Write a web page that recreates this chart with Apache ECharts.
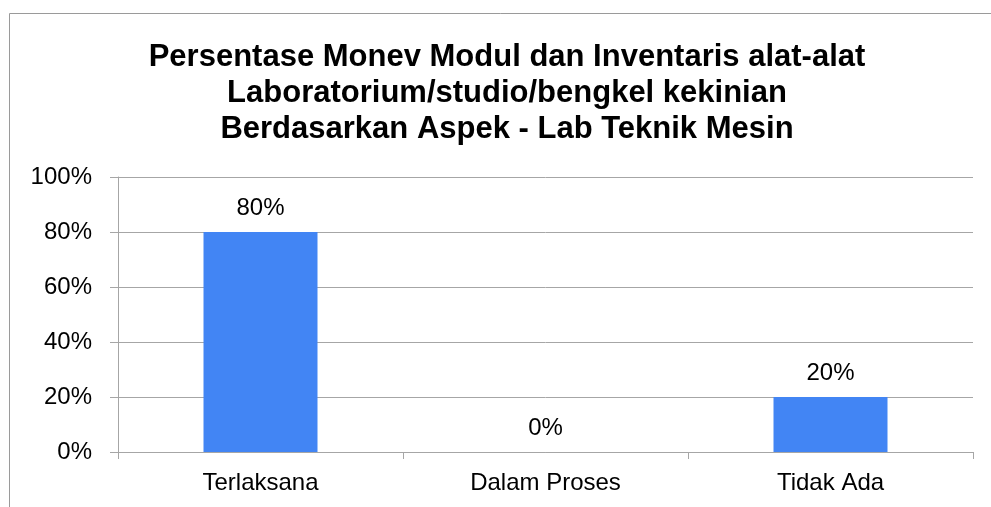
<!DOCTYPE html>
<html>
<head>
<meta charset="utf-8">
<script src="https://cdn.jsdelivr.net/npm/echarts@6/dist/echarts.min.js"></script>
<style>
  html, body { margin: 0; padding: 0; background: #fff; }
  #chart { width: 991px; height: 507px; }
</style>
</head>
<body>
<div id="chart"></div>
<script>
const titleLines = [
  'Persentase Monev Modul dan Inventaris alat-alat',
  'Laboratorium/studio/bengkel kekinian',
  'Berdasarkan Aspek - Lab Teknik Mesin'
]
const categories = ['Terlaksana', 'Dalam Proses', 'Tidak Ada']
const percentValues = [80, 0, 20]

const font = 'Liberation Sans, Arial, sans-serif'
const gray = '#a6a6a6'

const chart = echarts.init(document.getElementById('chart'))
chart.setOption({
  animation: false,
  backgroundColor: '#fff',
  title: {
    text: titleLines.join('\n'),
    left: 502,
    textAlign: 'center',
    top: 34,
    textStyle: {
      fontFamily: font,
      fontWeight: 'bold',
      fontSize: 31,
      lineHeight: 36,
      color: '#000'
    }
  },
  graphic: [{
    type: 'rect',
    shape: { x: 9.5, y: 13.5, width: 1100, height: 700 },
    style: { fill: 'none', stroke: '#9a9a9a', lineWidth: 1 },
    silent: true
  }],
  grid: { left: 118, right: 18, top: 177, bottom: 55 },
  xAxis: {
    type: 'category',
    data: categories,
    axisLine: { lineStyle: { color: gray } },
    axisTick: { show: true, length: 7, lineStyle: { color: gray } },
    axisLabel: { color: '#000', fontFamily: font, fontSize: 24, margin: 19 }
  },
  yAxis: {
    type: 'value',
    min: 0,
    max: 100,
    interval: 20,
    axisLine: { show: true, lineStyle: { color: gray } },
    axisTick: { show: true, length: 8, lineStyle: { color: gray } },
    splitLine: { lineStyle: { color: gray } },
    axisLabel: { color: '#000', fontFamily: font, fontSize: 24, margin: 26, formatter: '{value}%' }
  },
  series: [{
    type: 'bar',
    data: percentValues,
    barWidth: '40%',
    itemStyle: { color: '#4285f4' },
    label: {
      show: true,
      position: 'top',
      distance: 12,
      color: '#000',
      fontFamily: font,
      fontSize: 24,
      formatter: '{c}%'
    }
  }]
})
</script>
</body>
</html>
